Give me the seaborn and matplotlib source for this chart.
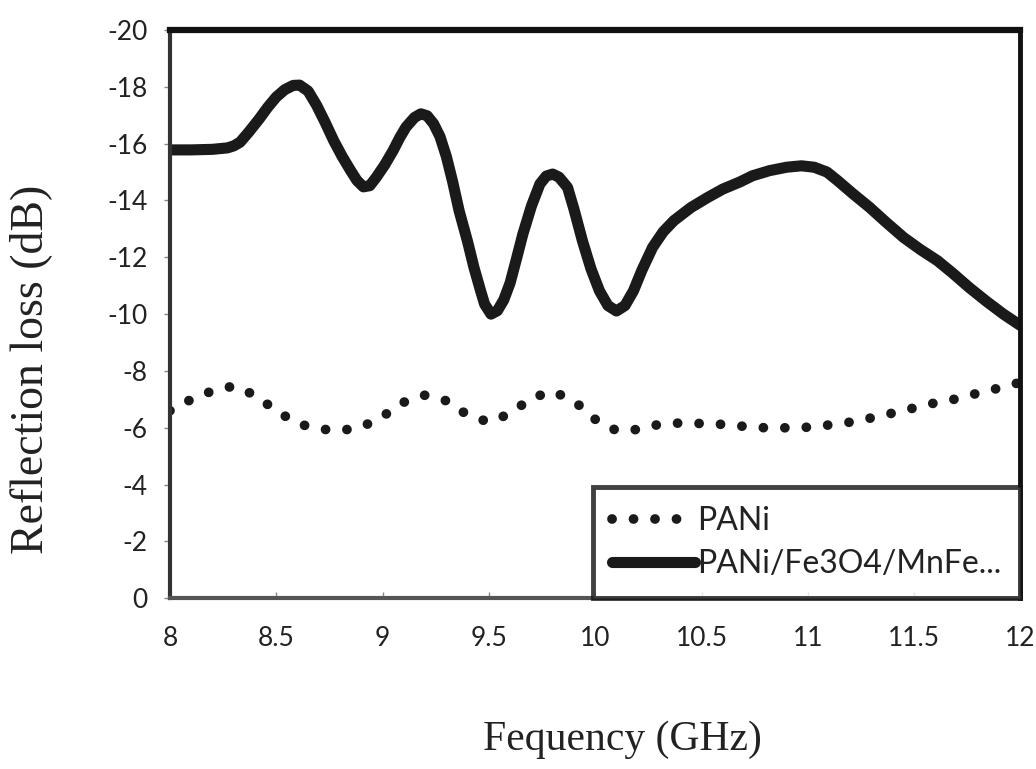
import numpy as np
import pandas as pd
import matplotlib
matplotlib.use("Agg")
import matplotlib.pyplot as plt
import seaborn as sns

sns.set_style("white")
plt.rcParams['font.family'] = ['Lato', 'DejaVu Sans']
plt.rcParams['axes.unicode_minus'] = False

# ---- data ----
freq_pani = [8.0, 8.1, 8.2, 8.3, 8.4, 8.5, 8.6, 8.7, 8.8, 8.9,
             9.0, 9.1, 9.2, 9.3, 9.4, 9.5, 9.6, 9.7, 9.8, 9.9,
             10.0, 10.1, 10.2, 10.3, 10.4, 10.5, 10.6, 10.7, 10.8, 10.9,
             11.0, 11.1, 11.2, 11.3, 11.4, 11.5, 11.6, 11.7, 11.8, 11.9, 12.0]
rl_pani = [-6.6, -7.0, -7.3, -7.47, -7.15, -6.6, -6.15, -5.96, -5.9, -6.02,
           -6.4, -6.9, -7.15, -6.95, -6.45, -6.2, -6.5, -7.05, -7.28, -6.95,
           -6.3, -5.9, -5.94, -6.12, -6.17, -6.15, -6.12, -6.05, -6.0, -6.0,
           -6.02, -6.1, -6.2, -6.35, -6.52, -6.7, -6.88, -7.02, -7.22, -7.4, -7.6]

freq_comp = [8.00, 8.10, 8.20, 8.27, 8.30, 8.33, 8.37, 8.42, 8.46, 8.50, 8.54,
             8.58, 8.61, 8.65, 8.69, 8.73, 8.77, 8.81, 8.85, 8.88, 8.91, 8.94,
             8.97, 9.01, 9.05, 9.08, 9.11, 9.15, 9.18, 9.21, 9.24, 9.27, 9.30,
             9.33, 9.36, 9.40, 9.43, 9.46, 9.48, 9.51, 9.54, 9.57, 9.60, 9.63,
             9.66, 9.70, 9.74, 9.77, 9.80, 9.83, 9.87, 9.90, 9.94, 9.98,
             10.02, 10.06, 10.10, 10.14, 10.18, 10.22, 10.27, 10.32, 10.37,
             10.45, 10.53, 10.60, 10.68, 10.74, 10.82, 10.90, 10.97, 11.03,
             11.09, 11.14, 11.21, 11.29, 11.37, 11.45, 11.53, 11.61, 11.68,
             11.76, 11.84, 11.92, 12.00]
rl_comp = [-15.78, -15.78, -15.80, -15.85, -15.92, -16.05, -16.40, -16.87, -17.28,
           -17.64, -17.90, -18.05, -18.06, -17.85, -17.35, -16.75, -16.11, -15.55,
           -15.05, -14.70, -14.48, -14.52, -14.81, -15.25, -15.76, -16.20, -16.58,
           -16.92, -17.05, -16.98, -16.70, -16.25, -15.55, -14.65, -13.64, -12.55,
           -11.64, -10.85, -10.35, -10.00, -10.12, -10.50, -11.10, -11.95, -12.82,
           -13.80, -14.58, -14.86, -14.93, -14.82, -14.46, -13.70, -12.58, -11.60,
           -10.82, -10.30, -10.11, -10.30, -10.82, -11.55, -12.35, -12.90, -13.29,
           -13.75, -14.11, -14.40, -14.65, -14.87, -15.05, -15.17, -15.22, -15.17,
           -15.00, -14.70, -14.25, -13.76, -13.22, -12.70, -12.27, -11.88, -11.45,
           -10.93, -10.45, -10.00, -9.60]

series_names = ["PANi", "PANi/Fe3O4/MnFe..."]
y_ticks = [0, -2, -4, -6, -8, -10, -12, -14, -16, -18, -20]
x_ticks = [8, 8.5, 9, 9.5, 10, 10.5, 11, 11.5, 12]
x_tick_labels = ["8", "8.5", "9", "9.5", "10", "10.5", "11", "11.5", "12"]

df_pani = pd.DataFrame({"freq": freq_pani, "rl": rl_pani})
df_comp = pd.DataFrame({"freq": freq_comp, "rl": rl_comp})

fig = plt.figure(figsize=(10.36, 7.69), dpi=100)
ax = fig.add_axes([0.164, 0.222, 0.821, 0.739])

sns.lineplot(data=df_pani, x="freq", y="rl", ax=ax, color="#1a1a1a",
             linewidth=7, label=series_names[0], estimator=None)
sns.lineplot(data=df_comp, x="freq", y="rl", ax=ax, color="#1a1a1a",
             linewidth=8, label=series_names[1], estimator=None)

l_dot, l_sol = ax.lines[0], ax.lines[1]
l_dot.set_linestyle((0, (0.01, 2.2)))
l_dot.set_dash_capstyle("round")
l_sol.set_solid_capstyle("round")
l_sol.set_solid_joinstyle("round")

ax.set_xlim(8, 12)
ax.set_ylim(0, -20)
ax.set_yticks(y_ticks)
ax.set_yticklabels([str(v) for v in y_ticks])
ax.set_xticks(x_ticks)
ax.set_xticklabels(x_tick_labels)

ax.tick_params(axis="y", left=True, direction="out", length=4, width=1,
               color="#888888", pad=12, labelsize=19, labelcolor="#222222")
ax.tick_params(axis="x", bottom=True, direction="in", length=4, width=1,
               color="#888888", pad=20, labelsize=19, labelcolor="#222222")

ax.spines["top"].set_linewidth(4.5)
ax.spines["top"].set_color("#111111")
ax.spines["right"].set_linewidth(3.5)
ax.spines["right"].set_color("#111111")
ax.spines["left"].set_linewidth(3)
ax.spines["left"].set_color("#333333")
ax.spines["bottom"].set_linewidth(3)
ax.spines["bottom"].set_color("#555555")

ax.set_ylabel("Reflection loss (dB)", family=["Liberation Serif"], fontsize=33,
              color="#222222")
ax.yaxis.set_label_coords(-0.138, 0.403)
ax.set_xlabel("Fequency (GHz)", family=["Liberation Serif"], fontsize=30,
              color="#222222")
ax.xaxis.set_label_coords(0.532, -0.215)

leg = ax.legend(loc="lower right", bbox_to_anchor=(1.0, 0.0), borderaxespad=0,
                frameon=True, fancybox=False, fontsize=23, handlelength=2.6,
                handletextpad=0.05, borderpad=0.6, labelspacing=0.4)
leg.get_frame().set_edgecolor("#111111")
leg.get_frame().set_linewidth(3.5)
for t in leg.get_texts():
    t.set_color("#222222")

fig.savefig("out.png", dpi=100)
